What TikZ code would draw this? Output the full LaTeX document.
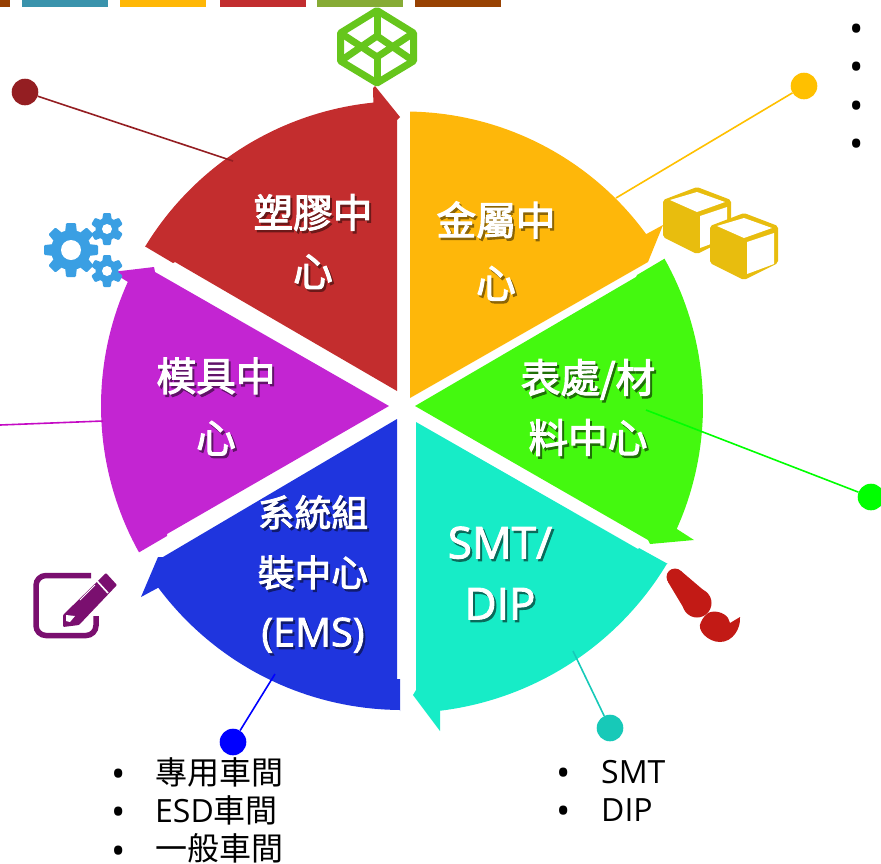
\documentclass[tikz,border=0pt]{standalone}
\usepackage{fontspec}
\setmainfont{Open Sans}
\newfontfamily\cjk{Noto Sans CJK TC}
\newfontfamily\cjkb[FakeBold=2.6]{Noto Sans CJK TC}
\newfontfamily\latb[FakeBold=2]{Open Sans}
\definecolor{cRed}{HTML}{C32D2E}
\definecolor{cOrange}{HTML}{FEB70A}
\definecolor{cGreen}{HTML}{44F90F}
\definecolor{cTeal}{HTML}{17ECC7}
\definecolor{cBlue}{HTML}{1F35DE}
\definecolor{cPurple}{HTML}{C325D2}
\definecolor{cGear}{HTML}{3A9FE3}
\definecolor{cCube}{HTML}{E8BD0E}
\definecolor{cPen}{HTML}{7A0F6F}
\definecolor{cBrush}{HTML}{C21A15}
\definecolor{cCode}{HTML}{66C61C}
\definecolor{barA}{HTML}{963F03}
\definecolor{barB}{HTML}{3A93AC}
\definecolor{barC}{HTML}{FFB706}
\definecolor{barD}{HTML}{C22D2F}
\definecolor{barE}{HTML}{86AB35}
\definecolor{barF}{HTML}{984203}
\definecolor{pinRed}{HTML}{941E22}
\definecolor{pinOrange}{HTML}{FFC000}
\definecolor{pinGreen}{HTML}{00FF00}
\definecolor{pinBlue}{HTML}{0000FF}
\definecolor{pinTeal}{HTML}{17C9B8}
\definecolor{pinPurple}{HTML}{C40AC4}
\newcommand{\cjkB}{\fontsize{36.7}{60}\selectfont\cjkb}
\newcommand{\latB}{\fontsize{39.7}{60}\selectfont\latb}
\tikzset{
  pindot/.style={circle,inner sep=0pt,minimum size=26.6pt,fill=#1},
  pinline/.style={line width=1.6pt,draw=#1},
  listdot/.style={inner sep=0pt,anchor=base,font=\fontsize{38}{38}\selectfont},
  listnode/.style={inner sep=0pt,anchor=base west,font=\fontsize{32}{38.5}\selectfont},
  cubeicon/.pic={
    \fill[cCube,rounded corners=2pt] (-34,-25)--(0,-38)--(34,-25)--(34,12)--(0,29)--(-34,12)--cycle;
    \fill[white] (-27,-25)--(0,-33)--(28,-23)--(0,-13)--cycle;
    \fill[white] (3,-9)--(30,-18)--(30,13)--(3,23)--cycle;
  }
}
\newcommand{\seclab}[7]{% name, x, y, size, leading, shadow colour, text
  \node[inner sep=0pt,align=center,text=#6,font=\fontsize{#4}{#5}\selectfont] (#1s) at (#2+2,#3+2.5) {#7};
  \node[inner sep=0pt,align=center,text=white,font=\fontsize{#4}{#5}\selectfont] (#1) at (#2,#3) {#7};
}
\newcommand{\gearicon}[6]{% cx cy router rbody rhole teeth
  \fill[cGear] (#1,#2) circle[radius=#4];
  \foreach \a in {1,...,#6}{
    \pgfmathsetmacro{\ang}{360*\a/#6-90}
    \pgfmathsetmacro{\hw}{0.62*#4*3.14159/#6}
    \fill[cGear,rounded corners=1pt,shift={(#1,#2)},rotate=\ang] (#4-2,-\hw-1) -- (#3,-\hw) -- (#3,\hw) -- (#4-2,\hw+1) -- cycle;
  }
  \fill[white] (#1,#2) circle[radius=#5];
}
\begin{document}
\begin{tikzpicture}[x=1pt,y=-1pt]
\useasboundingbox (0,0) rectangle (881,863);
% top bars
\fill[barA] (0,0) rectangle (10,7);
\fill[barB] (22,0) rectangle (108,7);
\fill[barC] (120,0) rectangle (206,7);
\fill[barD] (220,0) rectangle (306,7);
\fill[barE] (317,0) rectangle (403,7);
\fill[barF] (415,0) rectangle (501,7);
% sectors
\fill[cRed] (397,391) -- (175,262) -- (173,263) -- (146,247)
  -- plot[domain=211.3:264.2,samples=40] ({404+303*cos(\x)},{404+303*sin(\x)})
  -- (373,88) -- (375,86) -- (400,117) -- (397,120) -- cycle;
\fill[cOrange] (410,398) -- (410,112)
  -- plot[domain=-89:-36.1,samples=40] ({405+298.5*cos(\x)},{410+298.5*sin(\x)})
  -- (663,225) -- (648,262) -- cycle;
\fill[cGreen] (415,406) -- (636,277) -- (637,275) -- (664,259)
  -- plot[domain=-29.3:24.1,samples=40] ({402+301*cos(\x)},{406+301*sin(\x)})
  -- (694,540) -- (650,544) -- (648,540) -- cycle;
\fill[cTeal] (416,422) -- (638,549) -- (639,548) -- (668,564)
  -- plot[domain=31:83.1,samples=40] ({403+308*cos(\x)},{405+308*sin(\x)})
  -- (440,731) -- (413,695) -- (416,690) -- cycle;
\fill[cBlue] (397,419) -- (397,679) -- (400,679) -- (400,711)
  -- plot[domain=90.4:143.3,samples=40] ({402+304*cos(\x)},{406+304*sin(\x)})
  -- (141,597) -- (158,557) -- (163,557) -- cycle;
\fill[cPurple] (389,406) -- (155,272) -- (154,267) -- (112,272) -- (128,282)
  -- plot[domain=204.3:150.9,samples=40] ({402+301*cos(\x)},{406+301*sin(\x)})
  -- (167,536) -- (167,534) -- cycle;
% pins
\node[pindot=pinRed] (dRed) at (25,92) {};
\coordinate (eRed) at (233,161);
\draw[pinline=pinRed] (dRed) -- (eRed);
\node[pindot=pinOrange] (dOrange) at (804,86) {};
\coordinate (eOrange) at (616,198);
\draw[pinline=pinOrange] (dOrange) -- (eOrange);
\node[pindot=pinGreen] (dGreen) at (871,497) {};
\coordinate (eGreen) at (646,410);
\draw[pinline=pinGreen] (dGreen) -- (eGreen);
\node[pindot=pinBlue] (dBlue) at (233,742) {};
\coordinate (eBlue) at (275,674);
\draw[pinline=pinBlue] (dBlue) -- (eBlue);
\node[pindot=pinTeal] (dTeal) at (610,728) {};
\coordinate (eTeal) at (573,651);
\draw[pinline=pinTeal] (dTeal) -- (eTeal);
\coordinate (sPurple) at (0,425);
\coordinate (ePurple) at (103,421);
\draw[pinline=pinPurple] (sPurple) -- (ePurple);
% code icon
\begin{scope}[cCode,line width=7pt,line join=round]
\draw (377,10.5)--(413.5,33)--(413.5,61)--(377,83)--(340.5,61)--(340.5,33)--cycle;
\draw (340.5,33)--(377,57)--(413.5,33);
\draw (340.5,61)--(377,36)--(413.5,61);
\draw (377,10.5)--(377,36);
\draw (377,57)--(377,83);
\end{scope}
% cubes
\pic at (697,225) {cubeicon};
\pic at (744,251) {cubeicon};
% gears
\gearicon{71}{250}{27}{20}{10}{8}
\gearicon{107}{229}{16}{11.5}{5}{6}
\gearicon{107}{271}{16}{11.5}{5}{6}
% edit icon
\draw[cPen,line width=5.5pt,rounded corners=10pt] (91,575.5)--(36,575.5)--(36,635.5)--(96,635.5)--(96,616);
\fill[cPen,rounded corners=1pt] (106,573)--(117,585)--(79,625)--(63,627)--(63,615)--cycle;
\draw[white,line width=1.6pt] (97,581)--(108,593);
\draw[white,line width=1pt] (80,600)--(95,585);
\fill[white] (66,615)--(75,616)--(70,622)--(66,621)--cycle;
% brush icon
\fill[cBrush] (681,571)--(708,594)--(686,612)--(668,582)--cycle;
\fill[cBrush] (675,577) circle[radius=8.5];
\fill[cBrush] (697,603) circle[radius=14.5];
\fill[cBrush] (708,613) .. controls (714,610) and (724,612) .. (728,618)
  -- (730,623) -- (740,617) .. controls (741,628) and (733,642) .. (720,642)
  .. controls (708,642) and (696,630) .. (701,622) .. controls (703,618) and (705,615) .. (708,613) -- cycle;
% sector labels
\seclab{lRed}{313}{241.5}{39.7}{59}{cRed!55!black}{\cjkb 塑膠中\\\cjkb 心}
\seclab{lOrange}{496}{251}{39.7}{63}{cOrange!55!black}{\cjkb 金屬中\\\cjkb 心}
\seclab{lGreen}{588}{407.5}{39.7}{60}{cGreen!45!black}{\cjkb 表處/材\\\cjkb 料中心}
\seclab{lPurple}{216}{406.5}{39.7}{62}{cPurple!50!black}{\cjkb 模具中\\\cjkb 心}
\seclab{lBlue}{313}{574}{39.7}{60}{cBlue!50!black}{\cjkB 系統組\\\cjkB 裝中心\\\latB (EMS)}
\seclab{lTeal}{500}{573}{44}{61}{cTeal!45!black}{\latb SMT/\\\latb DIP}
% lists
\foreach \n/\y in {a/787,b/825,c/864}{\node[listdot] (bulBlue\n) at (119,\y) {•};}
\node[listnode] (listBlueA) at (155,784) {\cjk 專用車間};
\node[listnode] (listBlueB) at (155,822) {ESD{\cjk 車間}};
\node[listnode] (listBlueC) at (155,860) {\cjk 一般車間};
\foreach \n/\y in {a/786,b/824}{\node[listdot] (bulTeal\n) at (564,\y) {•};}
\node[listnode] (listTealA) at (601,783) {SMT};
\node[listnode] (listTealB) at (601,821) {DIP};
\foreach \n/\y in {a/42,b/80,c/119,d/157}{\node[listdot] (bulTop\n) at (857,\y) {•};}
\end{tikzpicture}
\end{document}
